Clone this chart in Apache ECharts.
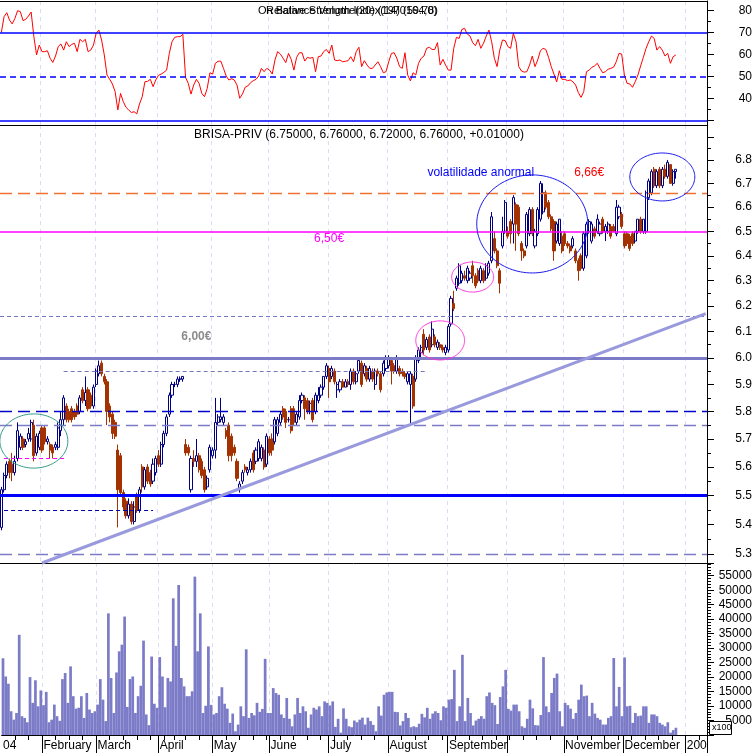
<!DOCTYPE html>
<html><head><meta charset="utf-8">
<script src="https://cdn.jsdelivr.net/npm/echarts@6/dist/echarts.min.js"></script>
<style>html,body{margin:0;padding:0;background:#fff;overflow:hidden}#c{width:756px;height:753px}</style>
</head><body><div id="c"></div>
<script>
const FONT = '"Liberation Sans", Arial, sans-serif';

// ---------- categories (trading days) ----------
const startDate = '2004-01-12';
const endDate = '2005-01-12';
const holidays = ['2004-04-09', '2004-04-12'];
const monthLabels = {
  '2004-01': '04', '2004-02': 'February', '2004-03': 'March', '2004-04': 'April',
  '2004-05': 'May', '2004-06': 'June', '2004-07': 'July', '2004-08': 'August',
  '2004-09': 'September', '2004-10': '', '2004-11': 'November', '2004-12': 'December',
  '2005-01': '200'
};

// ---------- series values ----------
// [open, high, low, close]
const priceOHLC = [
[5.39,5.53,5.38,5.52],[5.52,5.58,5.51,5.57],[5.57,5.62,5.56,5.61],[5.62,5.63,5.56,5.58],[5.61,5.65,5.55,5.58],
[5.58,5.64,5.57,5.62],[5.63,5.76,5.62,5.73],[5.67,5.72,5.66,5.71],[5.70,5.71,5.66,5.67],[5.68,5.70,5.67,5.69],
[5.70,5.74,5.69,5.72],[5.70,5.77,5.69,5.76],[5.75,5.77,5.62,5.64],[5.65,5.72,5.64,5.71],[5.67,5.73,5.66,5.72],
[5.74,5.75,5.65,5.66],[5.74,5.75,5.68,5.69],[5.69,5.71,5.68,5.70],[5.68,5.69,5.63,5.66],[5.67,5.68,5.63,5.65],
[5.67,5.69,5.66,5.68],[5.67,5.76,5.66,5.74],[5.73,5.80,5.71,5.77],[5.77,5.86,5.75,5.85],[5.82,5.83,5.76,5.77],
[5.80,5.81,5.76,5.77],[5.81,5.82,5.76,5.77],[5.80,5.81,5.77,5.78],[5.82,5.83,5.78,5.79],[5.80,5.86,5.79,5.85],
[5.88,5.89,5.83,5.84],[5.84,5.93,5.82,5.87],[5.88,5.89,5.80,5.81],[5.86,5.87,5.81,5.82],[5.82,5.90,5.81,5.89],
[5.90,5.96,5.89,5.95],[5.94,5.99,5.93,5.97],[5.98,5.99,5.93,5.94],[5.93,5.94,5.90,5.91],[5.91,5.92,5.75,5.80],
[5.82,5.83,5.76,5.78],[5.79,5.80,5.70,5.72],[5.76,5.77,5.70,5.71],[5.66,5.68,5.39,5.52],[5.64,5.65,5.50,5.51],
[5.51,5.52,5.45,5.46],[5.48,5.49,5.42,5.43],[5.43,5.49,5.42,5.47],[5.47,5.48,5.40,5.41],[5.41,5.48,5.40,5.46],
[5.50,5.51,5.44,5.45],[5.45,5.53,5.44,5.52],[5.60,5.61,5.51,5.53],[5.53,5.60,5.52,5.59],[5.60,5.61,5.54,5.55],
[5.58,5.59,5.53,5.54],[5.55,5.63,5.54,5.61],[5.58,5.64,5.57,5.63],[5.64,5.66,5.60,5.61],[5.61,5.69,5.60,5.68],
[5.68,5.73,5.67,5.72],[5.72,5.79,5.71,5.78],[5.79,5.87,5.78,5.86],[5.86,5.91,5.85,5.90],[5.90,5.91,5.89,5.90],
[5.90,5.93,5.89,5.92],[5.92,5.93,5.91,5.92],[5.92,5.93,5.91,5.93],[5.68,5.70,5.64,5.65],[5.67,5.68,5.64,5.65],
[5.52,5.64,5.51,5.63],[5.63,5.66,5.60,5.62],[5.62,5.70,5.60,5.64],[5.64,5.65,5.58,5.59],[5.62,5.63,5.56,5.57],
[5.59,5.60,5.51,5.52],[5.53,5.57,5.52,5.56],[5.59,5.68,5.58,5.67],[5.64,5.67,5.63,5.66],[5.66,5.85,5.63,5.76],
[5.76,5.79,5.75,5.78],[5.77,5.85,5.76,5.78],[5.76,5.79,5.75,5.78],[5.73,5.74,5.70,5.71],[5.75,5.76,5.62,5.64],
[5.71,5.72,5.62,5.64],[5.67,5.68,5.64,5.65],[5.62,5.63,5.55,5.56],[5.52,5.55,5.51,5.54],[5.55,5.59,5.54,5.58],
[5.60,5.61,5.58,5.59],[5.58,5.60,5.57,5.59],[5.59,5.63,5.58,5.62],[5.65,5.66,5.58,5.59],[5.62,5.67,5.61,5.66],
[5.63,5.70,5.62,5.69],[5.63,5.68,5.62,5.67],[5.66,5.67,5.59,5.60],[5.61,5.72,5.60,5.71],[5.70,5.71,5.64,5.65],
[5.70,5.72,5.64,5.66],[5.69,5.78,5.68,5.77],[5.72,5.78,5.71,5.77],[5.76,5.80,5.75,5.79],[5.81,5.82,5.77,5.78],
[5.80,5.81,5.74,5.76],[5.77,5.78,5.76,5.77],[5.81,5.82,5.72,5.73],[5.81,5.82,5.75,5.76],[5.76,5.80,5.75,5.79],
[5.78,5.86,5.77,5.84],[5.84,5.87,5.83,5.86],[5.85,5.86,5.77,5.81],[5.84,5.85,5.79,5.80],[5.80,5.84,5.79,5.83],
[5.84,5.85,5.76,5.77],[5.80,5.87,5.79,5.86],[5.84,5.89,5.83,5.86],[5.86,5.90,5.85,5.89],[5.89,5.93,5.88,5.93],
[5.93,5.98,5.92,5.97],[5.96,5.97,5.85,5.91],[5.93,5.97,5.92,5.96],[5.95,5.96,5.90,5.91],[5.88,5.91,5.85,5.90],
[5.88,5.92,5.87,5.91],[5.91,5.92,5.89,5.89],[5.89,5.92,5.89,5.91],[5.91,5.92,5.89,5.90],[5.90,5.96,5.88,5.95],
[5.95,5.96,5.90,5.91],[5.91,5.95,5.90,5.94],[5.95,6.00,5.94,5.99],[5.98,5.99,5.89,5.90],[5.94,5.98,5.93,5.97],
[5.96,5.97,5.91,5.92],[5.92,5.97,5.91,5.96],[5.95,5.96,5.91,5.92],[5.90,5.96,5.88,5.95],[5.95,5.96,5.93,5.94],
[5.94,5.95,5.87,5.88],[5.94,5.99,5.93,5.98],[5.96,6.01,5.95,6.00],[5.97,6.01,5.96,6.00],[5.99,6.00,5.90,5.95],
[5.97,5.98,5.94,5.95],[5.95,6.01,5.94,6.00],[5.96,5.97,5.93,5.94],[5.95,5.96,5.93,5.94],[5.94,5.95,5.92,5.93],
[5.91,5.95,5.90,5.94],[5.90,5.95,5.75,5.94],[5.93,5.94,5.81,5.82],[5.92,6.01,5.91,6.00],[5.99,6.04,5.98,6.03],
[6.02,6.05,6.00,6.04],[6.09,6.11,6.01,6.03],[6.04,6.08,6.03,6.07],[6.08,6.09,6.02,6.03],[6.05,6.14,6.04,6.11],
[6.08,6.09,6.04,6.05],[6.04,6.07,6.03,6.06],[6.05,6.06,6.03,6.04],[6.04,6.05,6.02,6.03],[6.02,6.05,6.01,6.04],
[6.03,6.13,6.02,6.12],[6.13,6.24,6.12,6.23],[6.21,6.26,6.18,6.19],[6.27,6.32,6.26,6.31],[6.29,6.37,6.28,6.36],
[6.30,6.34,6.29,6.33],[6.32,6.34,6.30,6.31],[6.30,6.36,6.29,6.35],[6.31,6.34,6.30,6.33],[6.36,6.38,6.29,6.32],
[6.32,6.33,6.27,6.28],[6.34,6.35,6.29,6.30],[6.30,6.36,6.29,6.35],[6.34,6.35,6.29,6.30],[6.31,6.37,6.30,6.36],
[6.33,6.38,6.32,6.37],[6.38,6.58,6.37,6.56],[6.47,6.50,6.41,6.42],[6.42,6.43,6.35,6.36],[6.34,6.35,6.25,6.29],
[6.44,6.56,6.43,6.50],[6.50,6.63,6.49,6.62],[6.50,6.52,6.47,6.48],[6.54,6.55,6.45,6.49],[6.53,6.65,6.45,6.64],
[6.61,6.62,6.42,6.53],[6.60,6.61,6.48,6.49],[6.45,6.46,6.38,6.42],[6.42,6.43,6.39,6.40],[6.44,6.58,6.43,6.57],
[6.49,6.60,6.48,6.59],[6.59,6.60,6.48,6.49],[6.44,6.51,6.43,6.50],[6.49,6.60,6.48,6.59],[6.55,6.71,6.54,6.70],
[6.58,6.70,6.57,6.66],[6.66,6.67,6.59,6.60],[6.62,6.63,6.55,6.56],[6.56,6.57,6.50,6.51],[6.54,6.55,6.38,6.42],
[6.46,6.54,6.45,6.53],[6.45,6.55,6.44,6.55],[6.48,6.50,6.41,6.42],[6.49,6.50,6.44,6.45],[6.45,6.46,6.43,6.44],
[6.44,6.45,6.41,6.42],[6.44,6.48,6.43,6.47],[6.42,6.43,6.37,6.38],[6.38,6.39,6.30,6.34],[6.40,6.41,6.34,6.35],
[6.35,6.50,6.34,6.49],[6.40,6.54,6.39,6.53],[6.50,6.55,6.49,6.54],[6.46,6.54,6.45,6.53],[6.51,6.52,6.47,6.48],
[6.50,6.57,6.49,6.55],[6.49,6.54,6.48,6.53],[6.55,6.56,6.49,6.50],[6.50,6.53,6.46,6.52],[6.50,6.54,6.49,6.53],
[6.52,6.53,6.47,6.48],[6.52,6.53,6.50,6.50],[6.49,6.63,6.48,6.60],[6.56,6.61,6.55,6.60],[6.57,6.58,6.51,6.52],
[6.49,6.50,6.43,6.44],[6.49,6.50,6.44,6.45],[6.48,6.49,6.42,6.43],[6.49,6.50,6.44,6.45],[6.46,6.50,6.45,6.50],
[6.50,6.55,6.49,6.55],[6.55,6.56,6.49,6.50],[6.50,6.55,6.49,6.55],[6.50,6.67,6.49,6.66],[6.64,6.72,6.63,6.71],
[6.66,6.76,6.65,6.75],[6.76,6.77,6.68,6.69],[6.69,6.76,6.68,6.75],[6.76,6.77,6.68,6.69],[6.69,6.77,6.68,6.76],
[6.76,6.78,6.72,6.73],[6.73,6.80,6.72,6.79],[6.78,6.78,6.70,6.70],[6.70,6.76,6.69,6.75],[6.75,6.76,6.72,6.76]
];

// volume in hundreds of shares (axis shows x100)
const volumes = [
26500,20200,17700,8200,5300,7600,34600,6500,5900,4400,
20000,11100,18900,9900,15400,10300,14900,4400,5300,10500,
6500,4900,19300,21400,11100,23700,13400,9100,9400,13400,
5900,14500,8800,7600,8200,10500,19300,12200,4800,42000,
19700,7600,21600,28900,31200,40900,9700,19300,20200,7600,
13400,17000,32600,7100,3400,27100,10800,9400,26900,20200,
9600,19700,18500,47200,30800,51800,19700,16800,13400,13400,
15100,54700,28900,42000,7600,10100,30600,10400,7100,7600,
13400,16500,10800,9100,4200,7400,1300,3600,9900,6500,
29600,5900,7600,6800,11100,8000,9000,26300,7600,7600,
16200,14500,13900,7100,5900,12800,5600,3000,7100,12800,
7600,9900,8200,2500,7100,9400,8800,9900,6500,11600,
11100,10200,11600,2800,5600,800,9200,5600,3000,2700,
5000,4400,5300,6000,3600,6000,4800,3500,1300,9900,
6700,13900,14700,14900,14900,8000,7900,3300,4800,7600,
5900,2700,3000,2700,3900,7300,6100,9400,5600,7400,
8200,7600,5100,9900,9400,12200,12400,22500,4800,9900,
27700,4800,12800,7600,3300,5000,5600,6500,5600,13400,
14700,11100,10300,3800,13100,16800,22500,9000,8400,10500,
10500,8200,3000,2500,5600,12200,9200,3400,3300,6900,
26900,9900,7900,14500,19700,21200,8200,3000,11100,10300,
9100,5600,7600,12200,17400,13400,13600,6500,11100,7400,
5900,5300,3600,3600,5900,6500,26600,9900,16600,6500,
26800,9900,10100,4200,7600,6500,6700,9900,9900,4200,
7100,7100,6500,4200,3600,3000,4400,800,1700,2500
];

const rsiValues = [
70,77.2,79,75.7,73.9,76.4,79.9,79.5,75.4,76,
77.5,79.3,68.1,59.8,64.3,61.3,61.3,61.7,58.3,56.4,
59.3,63.6,64.8,62,65.8,63.6,64.6,65.1,61.3,66.9,
65.8,66.9,61.3,62,64.3,69.6,71.1,66.6,59.8,50.7,
48.7,46.6,43.1,34.8,42.3,38.6,36,34.8,33.6,34,
33,37.5,40.8,47.6,47.8,48.7,45.4,48.4,50.5,51.1,
51.9,52.9,60.5,65.8,67.8,68.1,68.1,69.2,49.6,46.9,
42,46.1,48.7,46.9,42.3,40.8,44.6,51.7,51.1,56,
56.9,57,53.7,50.2,48.4,49,48.4,46.1,40.1,42,
45.1,45.7,47.2,48.1,48.7,50.2,53.7,52.2,53.7,52.9,
51.1,57.5,61.3,60.2,58.3,56.3,60.5,57.8,52.9,58.7,
60.8,60.8,57,58.7,58.3,58.7,52.2,59,59.3,61.3,
62.3,60.5,64.3,57.5,57.2,57.5,56.7,56.9,57.2,59,
56.7,61.3,63.3,54.5,57.2,55.2,53.7,53.7,55.2,56.7,
54.5,51.7,52.2,56.7,60.5,60.8,58.3,54.5,53.7,60.8,
50.7,48,51.7,50.7,56,58.3,59.3,62.8,63.3,62.3,
62.3,65.4,55.2,57.8,55.2,52.9,52.9,62.8,67.8,67.3,
71.4,71.9,69.3,68.4,65.4,64,66.9,62.8,65.1,68.4,
71.1,65.8,58.3,54.5,62,66.6,66.3,63.6,62.8,69.6,
65.8,54.5,52.5,52,52.2,55.2,59.3,54.5,57.5,61.7,
62.8,62.3,58.7,54.5,51.1,47.6,52.6,48.7,48.7,48.1,
48.4,47.6,46.1,42.7,40.5,43.1,52.2,52.9,54.2,54.8,
56,53.7,51.7,52.2,53.3,53.7,54.2,56.7,60.5,60.2,
50.7,46.9,46.6,45.1,47.6,50.7,54.8,58.7,62.8,65.8,
68.4,67.3,62,63.6,62,59.3,60.5,56,59,59.8
];

// ---------- axes / tick labels ----------
const rsiRange = [27.95, 84.32];
const rsiTickLabels = [40, 50, 60, 70, 80];
const rsiMajorTicks = [30, 40, 50, 60, 70, 80];
const rsiMinorTicks = [35, 45, 55, 65, 75];
const rsiLevels = { upper: 70, middle: 50, lower: 30 };

const priceRange = [5.270, 6.952];
const priceTickLabels = [5.3,5.4,5.5,5.6,5.7,5.8,5.9,6.0,6.1,6.2,6.3,6.4,6.5,6.6,6.7,6.8];
const priceMajorTicks = [5.3,5.4,5.5,5.6,5.7,5.8,5.9,6.0,6.1,6.2,6.3,6.4,6.5,6.6,6.7,6.8,6.9];
const priceMinorTicks = [5.35,5.45,5.55,5.65,5.75,5.85,5.95,6.05,6.15,6.25,6.35,6.45,6.55,6.65,6.75,6.85];

const volumeRange = [0, 59400];
const volumeInterval = 5000;

// ---------- annotations ----------
const levelLines = [
  { price: 6.66, color: '#f07030', width: 1.3, type: [12, 6] },
  { price: 6.50, color: '#ff00ff', width: 1.5, type: 'solid' },
  { price: 6.16, color: '#7777cc', width: 1, type: [4, 3] },
  { price: 6.00, color: '#7b7bc8', width: 3, type: 'solid' },
  { price: 5.80, color: '#0000cc', width: 1.3, type: [12, 6] },
  { price: 5.75, color: '#7b7bc8', width: 1.3, type: [12, 6] },
  { price: 5.50, color: '#0000ff', width: 3, type: 'solid' },
  { price: 5.30, color: '#7b7bc8', width: 1.3, type: [12, 6] }
];
const segmentLines = [
  { from: [23, 5.95], to: [157, 5.95], color: '#7777bb', width: 1, type: [4, 3] },
  { from: [1, 5.45], to: [56, 5.45], color: '#0000aa', width: 1, type: [4, 3] },
  { from: [1, 5.63], to: [24, 5.63], color: '#ff00ff', width: 1, type: [4, 3] },
  { from: [15, 5.27], to: [260, 6.17], color: '#9999dd', width: 3, type: 'solid' }
];
// ellipses: [centerIndex, halfWidthDays, topPrice, bottomPrice]
const ellipseData = [[12, 12.55, 5.791, 5.596], [162, 9.0, 6.142, 5.992], [174, 7.75, 6.375, 6.255], [196, 20.5, 6.736, 6.331], [244, 12.0, 6.830, 6.626]];
const ellipseColors = ['#339988', '#ff33dd', '#ff33dd', '#1a1aee', '#1a1aee'];
const noteData = [[72, 6.08], [121, 6.469], [177, 6.744], [217, 6.744]];
const noteTexts = ['6,00€', '6,50€', 'volatilidade anormal', '6,66€'];
const noteColors = ['#8c8c8c', '#ff00ff', '#0000ff', '#ff0000'];
const noteWeights = ['bold', 'normal', 'normal', 'normal'];

const priceTitle = 'BRISA-PRIV (6.75000, 6.76000, 6.72000, 6.76000, +0.01000)';
const rsiTitleA = 'On Balance Volume(20) (1970164,0)';
const rsiTitleB = 'Relative Strength Index(14) (59.78)';

// ---------- build ----------
const categories = [];
(function () {
  const end = new Date(endDate + 'T00:00:00Z');
  for (let d = new Date(startDate + 'T00:00:00Z'); d <= end; d.setUTCDate(d.getUTCDate() + 1)) {
    const wd = d.getUTCDay();
    const s = d.toISOString().slice(0, 10);
    if (wd === 0 || wd === 6 || holidays.indexOf(s) >= 0) continue;
    categories.push(s);
  }
})();
const isMonthStart = i => i > 0 && categories[i].slice(0, 7) !== categories[i - 1].slice(0, 7);
const isWeekStart = i => i > 0 && new Date(categories[i] + 'T00:00:00Z').getUTCDay() < new Date(categories[i - 1] + 'T00:00:00Z').getUTCDay();
const L = Math.log;

const candleData = priceOHLC.map(([o, h, l, c]) => [L(o), L(c), L(l), L(h)]);

const gridLine = { show: true, interval: (i) => isMonthStart(i), lineStyle: { color: '#dcdcf6', type: [4, 4], width: 1 } };
const blackLine = { show: true, lineStyle: { color: '#000', width: 1 } };
const baseX = (grid) => ({
  type: 'category', gridIndex: grid, data: categories, boundaryGap: true,
  axisLine: blackLine, axisTick: { show: false }, axisLabel: { show: false }, splitLine: gridLine
});
const labelStyle = { color: '#000', fontSize: 12, fontFamily: FONT };

const markLineCommon = { symbol: ['none', 'none'], silent: true, animation: false, precision: 10, label: { show: false } };

const option = {
  animation: false,
  backgroundColor: '#fff',
  textStyle: { fontFamily: FONT },
  grid: [
    { left: 0, top: 1, width: 707, height: 124 },
    { left: 0, top: 125, width: 707, height: 438 },
    { left: 0, top: 563, width: 707, height: 172 }
  ],
  xAxis: [
    baseX(0),
    { type: 'category', gridIndex: 0, data: categories, position: 'top', axisLine: blackLine, axisTick: { show: false }, axisLabel: { show: false }, splitLine: { show: false } },
    baseX(1),
    Object.assign(baseX(2), {
      axisTick: { show: true, interval: (i) => isMonthStart(i), length: 20, lineStyle: { color: '#000' } },
      axisLabel: {
        show: true, interval: (i) => i === 0 || isMonthStart(i), align: 'left', margin: 5,
        formatter: (v) => monthLabels[v.slice(0, 7)], ...labelStyle
      }
    }),
    { type: 'category', gridIndex: 2, data: categories, position: 'bottom', axisLine: { show: false },
      axisTick: { show: true, interval: (i) => isWeekStart(i), length: 5, lineStyle: { color: '#000' } },
      axisLabel: { show: false }, splitLine: { show: false } }
  ],
  yAxis: [
    { type: 'value', gridIndex: 0, position: 'right', min: rsiRange[0], max: rsiRange[1], axisLine: blackLine,
      axisTick: { show: true, customValues: rsiMajorTicks, length: 7, lineStyle: { color: '#000' } },
      axisLabel: { show: true, customValues: rsiTickLabels, align: 'right', margin: 45, ...labelStyle },
      splitLine: { show: false } },
    { type: 'value', gridIndex: 0, position: 'right', min: rsiRange[0], max: rsiRange[1], axisLine: { show: false },
      axisTick: { show: true, customValues: rsiMinorTicks, length: 4, lineStyle: { color: '#000' } },
      axisLabel: { show: false }, splitLine: { show: false } },
    { type: 'value', gridIndex: 1, position: 'right', min: L(priceRange[0]), max: L(priceRange[1]), axisLine: blackLine,
      axisTick: { show: true, customValues: priceMajorTicks.map(L), length: 7, lineStyle: { color: '#000' } },
      axisLabel: { show: true, customValues: priceTickLabels.map(L), align: 'right', margin: 45,
        formatter: (v) => Math.exp(v).toFixed(1), ...labelStyle },
      splitLine: { show: false } },
    { type: 'value', gridIndex: 1, position: 'right', min: L(priceRange[0]), max: L(priceRange[1]), axisLine: { show: false },
      axisTick: { show: true, customValues: priceMinorTicks.map(L), length: 4, lineStyle: { color: '#000' } },
      axisLabel: { show: false }, splitLine: { show: false } },
    { type: 'value', gridIndex: 2, position: 'right', min: volumeRange[0], max: volumeRange[1], interval: volumeInterval,
      axisLine: blackLine,
      axisTick: { show: true, length: 7, lineStyle: { color: '#000' } },
      minorTick: { show: true, splitNumber: 5, length: 4, lineStyle: { color: '#000' } },
      axisLabel: { show: true, showMaxLabel: false, showMinLabel: false, align: 'right', margin: 45,
        formatter: (v) => (v > 0 && v % volumeInterval === 0) ? String(v) : '', ...labelStyle },
      splitLine: { show: false }, minorSplitLine: { show: false } }
  ],
  series: [
    {
      type: 'line', name: 'RSI', xAxisIndex: 0, yAxisIndex: 0, data: rsiValues, symbol: 'none',
      lineStyle: { color: '#ff0000', width: 1 }, itemStyle: { color: '#ff0000' }, z: 3,
      markLine: Object.assign({}, markLineCommon, {
        data: [
          { yAxis: rsiLevels.upper, lineStyle: { color: '#0000ff', width: 1.5, type: 'solid' } },
          { yAxis: rsiLevels.middle, lineStyle: { color: '#0000ff', width: 1.5, type: [6, 4] } },
          { yAxis: rsiLevels.lower, lineStyle: { color: '#0000ff', width: 1.5, type: 'solid' } }
        ]
      })
    },
    {
      type: 'candlestick', name: 'BRISA-PRIV', xAxisIndex: 2, yAxisIndex: 2, data: candleData,
      barWidth: 2.6,
      itemStyle: { color: '#ffffff', color0: '#a33200', borderColor: '#000080', borderColor0: '#a33200', borderWidth: 1 },
      z: 2,
      markLine: Object.assign({}, markLineCommon, {
        data: levelLines.map(l => ({ yAxis: L(l.price), lineStyle: { color: l.color, width: l.width, type: l.type } }))
          .concat(segmentLines.map(s => [
            { coord: [s.from[0], L(s.from[1])], lineStyle: { color: s.color, width: s.width, type: s.type } },
            { coord: [s.to[0], L(s.to[1])] }
          ]))
      })
    },
    {
      type: 'custom', name: 'ellipses', xAxisIndex: 2, yAxisIndex: 2, silent: true, z: 5,
      data: ellipseData.map(e => [e[0], e[1], L(e[2]), L(e[3])]),
      encode: { x: 0, y: [2, 3] },
      renderItem: function (params, api) {
        const ci = api.value(0), hw = api.value(1), top = api.value(2), bot = api.value(3);
        const pt = api.coord([ci, top]);
        const pb = api.coord([ci, bot]);
        const band = api.size([1, 0])[0];
        const cx = pt[0], cy = (pt[1] + pb[1]) / 2, rx = hw * band, ry = Math.abs(pb[1] - pt[1]) / 2;
        const pts = [];
        for (let k = 0; k < 120; k++) {
          const a = k / 120 * Math.PI * 2;
          pts.push([cx + rx * Math.cos(a), cy + ry * Math.sin(a)]);
        }
        return { type: 'polygon', shape: { points: pts }, style: { fill: 'none', stroke: ellipseColors[params.dataIndex], lineWidth: 1 } };
      }
    },
    {
      type: 'custom', name: 'notes', xAxisIndex: 2, yAxisIndex: 2, silent: true, z: 6,
      data: noteData.map(n => [n[0], L(n[1])]),
      encode: { x: 0, y: 1 },
      renderItem: function (params, api) {
        const p = api.coord([api.value(0), api.value(1)]);
        const i = params.dataIndex;
        return { type: 'text', x: p[0], y: p[1], style: { text: noteTexts[i], fill: noteColors[i],
          font: noteWeights[i] + ' 12px ' + FONT, align: 'center', verticalAlign: 'middle' } };
      }
    },
    {
      type: 'bar', name: 'Volume', xAxisIndex: 3, yAxisIndex: 4, data: volumes,
      barCategoryGap: '0%', itemStyle: { color: '#7b7bc8' }, z: 2
    }
  ],
  graphic: [
    { type: 'text', left: 194, top: 129, z: 50, style: { text: priceTitle, font: '12px ' + FONT, fill: '#000' } },
    { type: 'text', left: 258, top: 5, z: 50, style: { text: rsiTitleA, font: '11px ' + FONT, fill: '#000' } },
    { type: 'text', left: 266, top: 5, z: 50, style: { text: rsiTitleB, font: '11px ' + FONT, fill: '#000' } },
    { type: 'rect', z: 100, shape: { x: 709.5, y: 721.5, width: 22, height: 13 }, style: { fill: '#fff', stroke: '#000', lineWidth: 1 } },
    { type: 'text', z: 101, x: 712, y: 723, style: { text: 'x100', font: '9px ' + FONT, fill: '#000' } }
  ]
};

const chart = echarts.init(document.getElementById('c'), null, { renderer: 'canvas', width: 756, height: 753 });
chart.setOption(option);
</script>
</body></html>
